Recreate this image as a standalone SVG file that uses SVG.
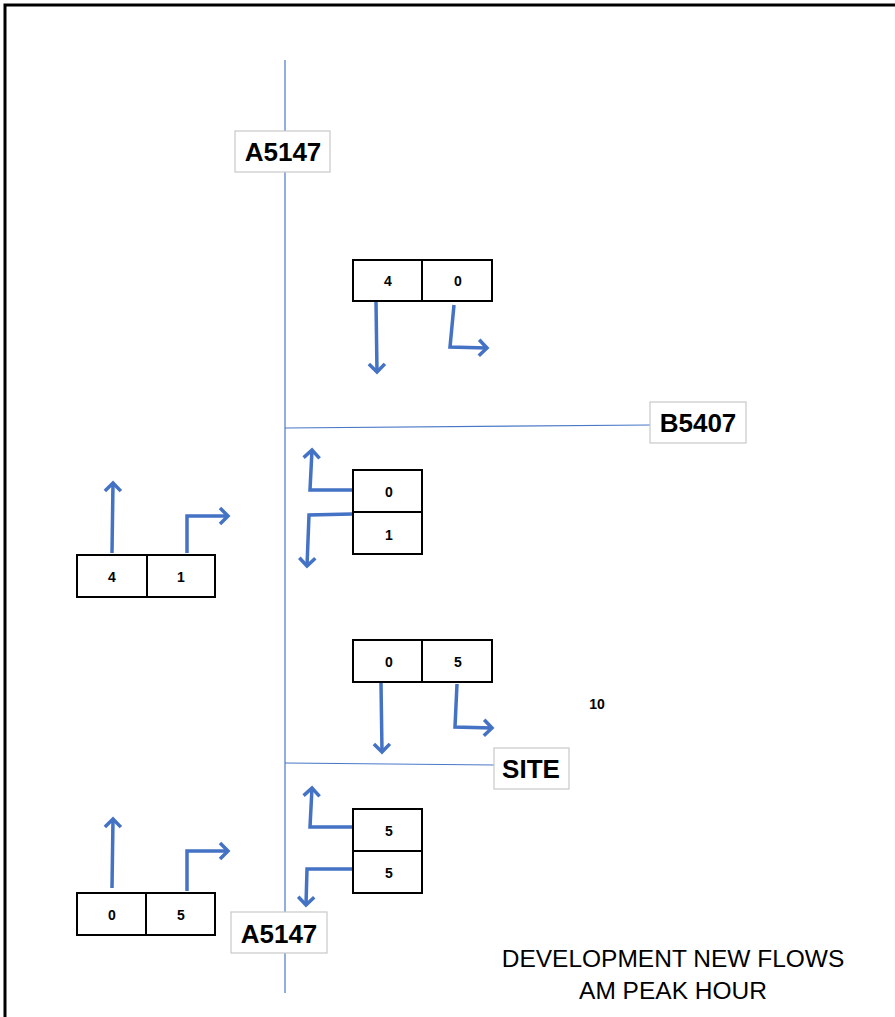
<svg xmlns="http://www.w3.org/2000/svg" width="895" height="1017" viewBox="0 0 895 1017">
<style>
.road{stroke:#4a78c8;stroke-width:1.2;fill:none}
.flow{stroke:#4472c4;stroke-width:3.5;fill:none;stroke-linejoin:miter;marker-end:url(#ah)}
.cell{fill:#fff;stroke:#000;stroke-width:2}
.num{font-family:"Liberation Sans",Arial,sans-serif;font-weight:bold;font-size:14px;text-anchor:middle;fill:#000}
.lbox{fill:#fff;stroke:#c8c8c8;stroke-width:1.2}
.lbl{font-family:"Liberation Sans",Arial,sans-serif;font-weight:bold;font-size:26px;text-anchor:middle;fill:#000}
.title{font-family:"Liberation Sans",Arial,sans-serif;font-size:24.5px;text-anchor:middle;fill:#000}
</style>
<defs>
<marker id="ah" markerWidth="20" markerHeight="20" refX="10" refY="10" orient="auto" markerUnits="userSpaceOnUse" viewBox="0 0 20 20">
<path d="M2,2 L10,10 L2,18" fill="none" stroke="#4472c4" stroke-width="3.5"/>
</marker>
</defs>
<rect width="895" height="1017" fill="#fff"/>
<path d="M5,1017 V5 H895" fill="none" stroke="#000" stroke-width="3"/>

<g id="roads">
<line class="road" x1="285" y1="60" x2="285" y2="993"/>
<line class="road" x1="285" y1="428" x2="650" y2="425"/>
<line class="road" x1="285" y1="763" x2="495" y2="765"/>
</g>

<g id="connectors">
<path class="flow" d="M376,302 L377,372"/>
<path class="flow" d="M454,305 L450,347 L487,348"/>
<path class="flow" d="M352,490 L310,490 L312,450"/>
<path class="flow" d="M352,514 L309,515 L307,566"/>
<path class="flow" d="M112,553 L113,483"/>
<path class="flow" d="M187,553 L187,516 L228,516"/>
<path class="flow" d="M381,683 L382,752"/>
<path class="flow" d="M457,684 L455,727 L492,728"/>
<path class="flow" d="M352,827 L310,827 L312,788"/>
<path class="flow" d="M352,869 L307,869 L306,905"/>
<path class="flow" d="M112,888 L113,819"/>
<path class="flow" d="M187,891 L187,851 L228,851"/>
</g>

<g id="label-a5147-top">
<rect class="lbox" x="235" y="131" width="95" height="41"/>
<text class="lbl" x="283" y="161">A5147</text>
</g>
<g id="label-b5407">
<rect class="lbox" x="650" y="402" width="96" height="41"/>
<text class="lbl" x="698" y="432">B5407</text>
</g>
<g id="label-site">
<rect class="lbox" x="494" y="748" width="75" height="41"/>
<text class="lbl" x="531" y="778">SITE</text>
</g>
<g id="label-a5147-bottom">
<rect class="lbox" x="231" y="912" width="96" height="41"/>
<text class="lbl" x="279" y="943">A5147</text>
</g>

<g id="box-north">
<rect class="cell" x="353" y="260" width="69" height="41"/>
<rect class="cell" x="422" y="260" width="70" height="41"/>
<text class="num" x="388" y="286">4</text>
<text class="num" x="458" y="286">0</text>
</g>
<g id="box-b5407">
<rect class="cell" x="353" y="470" width="69" height="42"/>
<rect class="cell" x="353" y="512" width="69" height="42"/>
<text class="num" x="389" y="497">0</text>
<text class="num" x="389" y="540">1</text>
</g>
<g id="box-west-upper">
<rect class="cell" x="77" y="555" width="70" height="42"/>
<rect class="cell" x="147" y="555" width="68" height="42"/>
<text class="num" x="112" y="582">4</text>
<text class="num" x="181" y="582">1</text>
</g>
<g id="box-site-north">
<rect class="cell" x="353" y="640" width="69" height="42"/>
<rect class="cell" x="422" y="640" width="70" height="42"/>
<text class="num" x="389" y="667">0</text>
<text class="num" x="458" y="667">5</text>
</g>
<g id="label-10">
<text class="num" x="597" y="709">10</text>
</g>
<g id="box-site-east">
<rect class="cell" x="353" y="809" width="69" height="42"/>
<rect class="cell" x="353" y="851" width="69" height="42"/>
<text class="num" x="389" y="836">5</text>
<text class="num" x="389" y="878">5</text>
</g>
<g id="box-west-lower">
<rect class="cell" x="77" y="893" width="69" height="42"/>
<rect class="cell" x="146" y="893" width="69" height="42"/>
<text class="num" x="112" y="920">0</text>
<text class="num" x="181" y="920">5</text>
</g>

<g id="title">
<text class="title" x="673" y="967">DEVELOPMENT NEW FLOWS</text>
<text class="title" x="673" y="999">AM PEAK HOUR</text>
</g>
</svg>
